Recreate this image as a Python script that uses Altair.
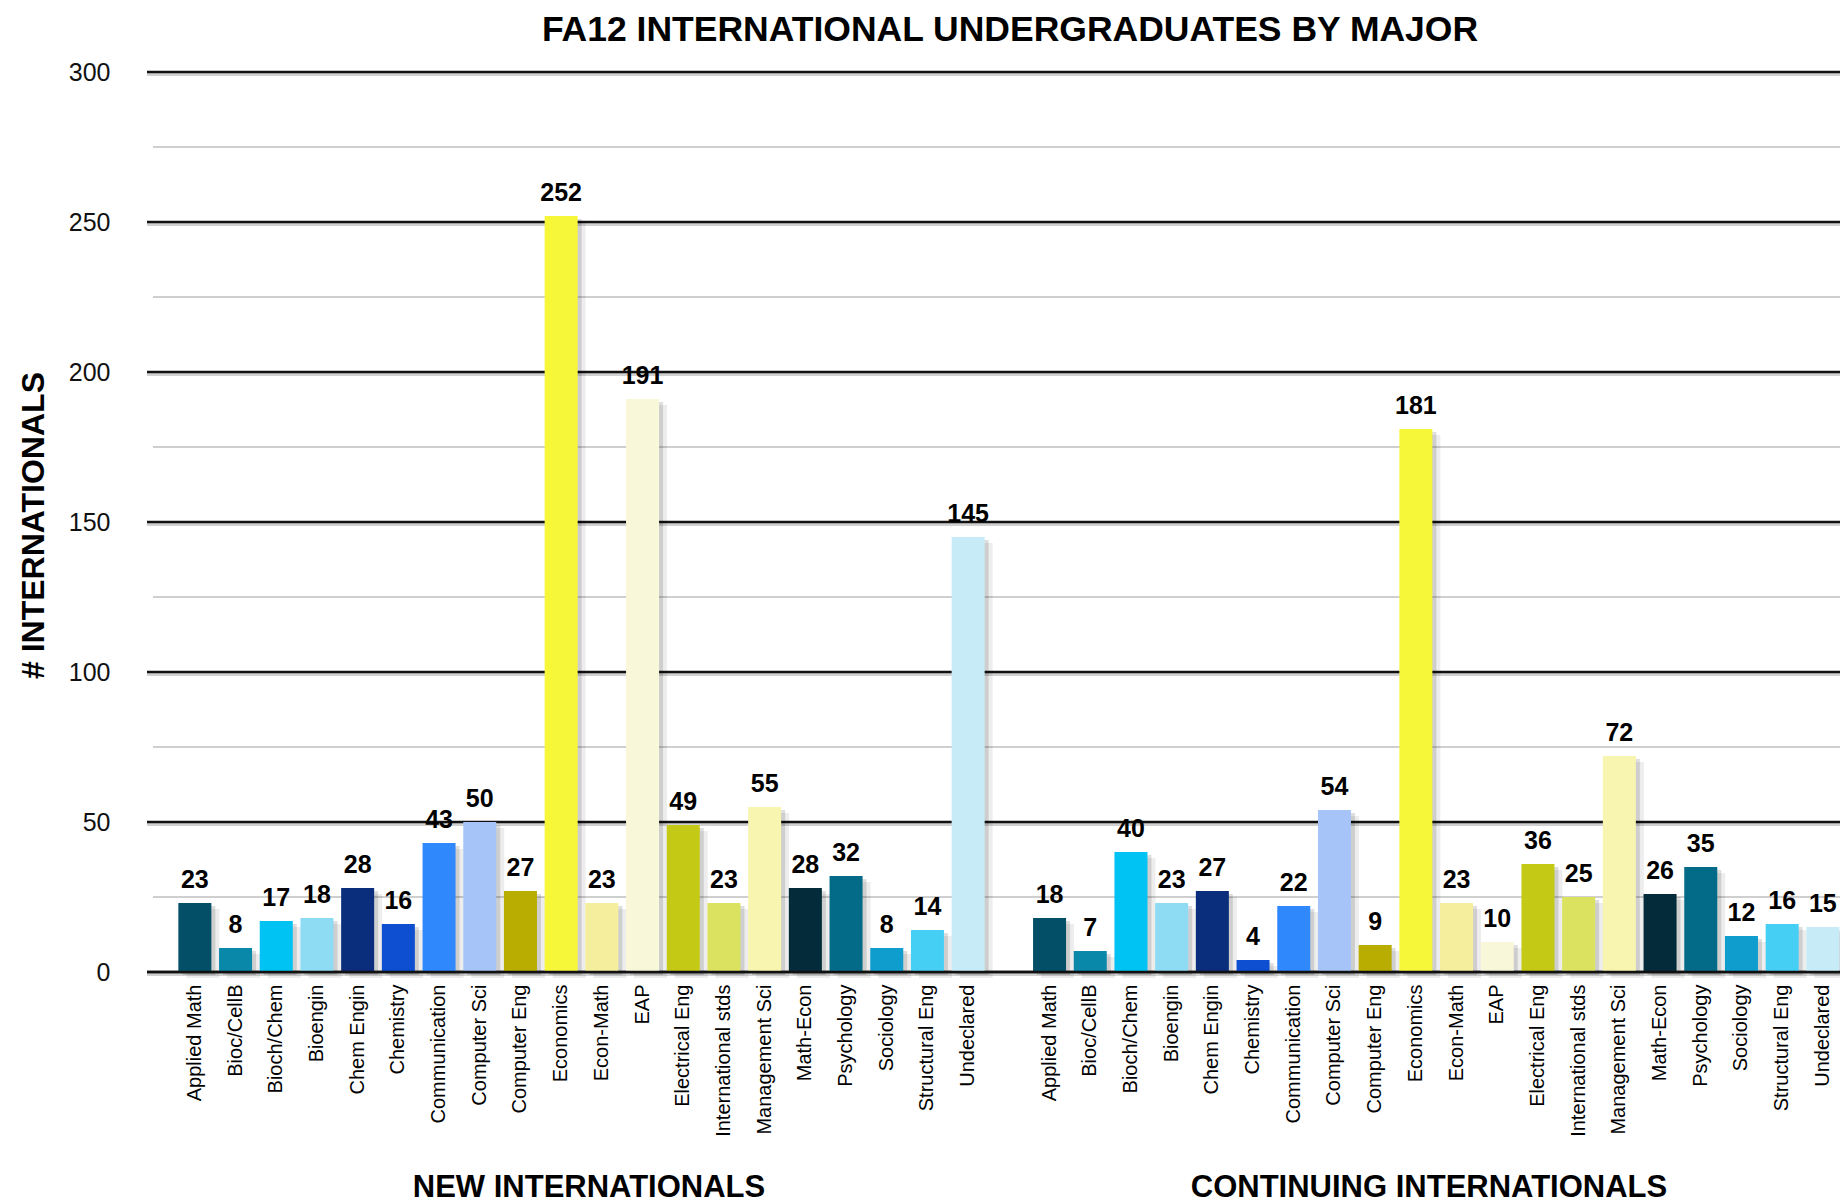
import altair as alt
import pandas as pd

# ---- data ----
majors = ["Applied Math", "Bioc/CellB", "Bioch/Chem", "Bioengin", "Chem Engin",
          "Chemistry", "Communication", "Computer Sci", "Computer Eng", "Economics",
          "Econ-Math", "EAP", "Electrical Eng", "International stds", "Management Sci",
          "Math-Econ", "Psychology", "Sociology", "Structural Eng", "Undeclared"]
new_vals = [23, 8, 17, 18, 28, 16, 43, 50, 27, 252, 23, 191, 49, 23, 55, 28, 32, 8, 14, 145]
cont_vals = [18, 7, 40, 23, 27, 4, 22, 54, 9, 181, 23, 10, 36, 25, 72, 26, 35, 12, 16, 15]
colors = ["#034f68", "#0a88aa", "#00c3f4", "#8edbf4", "#0a2e7c",
          "#0d4fd0", "#2f88fc", "#a6c4f8", "#b8ad00", "#f7f73a",
          "#f5ee9c", "#f8f7da", "#c3c915", "#dbe25f", "#f7f5b0",
          "#032b3a", "#036a88", "#0e9dcc", "#46cff4", "#c7ecf8"]
group_codes = ["N", "C"]
group_titles = ["NEW INTERNATIONALS", "CONTINUING INTERNATIONALS"]
major_ticks = [0, 50, 100, 150, 200, 250, 300]
minor_ticks = [25, 75, 125, 175, 225, 275]
chart_title = "FA12 INTERNATIONAL UNDERGRADUATES BY MAJOR"
y_title = "# INTERNATIONALS"

FONT = "Liberation Sans, Arial, Helvetica, sans-serif"
W, H = 1693, 900

rows = []
for code, vals in zip(group_codes, [new_vals, cont_vals]):
    for m, v in zip(majors, vals):
        rows.append({"key": f"{code}|{m}", "major": m, "value": v})
df = pd.DataFrame(rows)
domain = [f"N|{m}" for m in majors] + ["gap|"] + [f"C|{m}" for m in majors]

grid_df = pd.DataFrame({"value": major_ticks + minor_ticks,
                        "kind": ["major"] * len(major_ticks) + ["minor"] * len(minor_ticks)})

xscale = alt.Scale(domain=domain, paddingInner=0.189, paddingOuter=0.393, align=0.98)
yscale = alt.Scale(domain=[0, 300], nice=False)

x_enc = alt.X("key:N", scale=xscale, title=None,
              axis=alt.Axis(labelExpr="split(datum.value, '|')[1]", labelAngle=270,
                            labelFontSize=20, labelFont=FONT, labelColor="#000",
                            labelPadding=12, ticks=False, tickSize=0, domain=False,
                            grid=False, labelLimit=400, labelOverlap=False))

y_axis = alt.Axis(values=major_ticks, title=y_title, titleFont=FONT, titleFontSize=32,
                  titleFontWeight="bold", titleColor="#000", titleAngle=270,
                  titleX=-104, titleY=453, titleAlign="center", titleBaseline="alphabetic",
                  labelFont=FONT, labelFontSize=25, labelColor="#111", labelPadding=37,
                  ticks=False, tickSize=0, domain=False, grid=False)

y_enc = alt.Y("value:Q", scale=yscale, axis=y_axis)

minor_rules = alt.Chart(grid_df).transform_filter("datum.kind == 'minor'").mark_rule(
    color="#cfcfcf", strokeWidth=2).encode(
    y=y_enc, x=alt.value(6), x2=alt.value(W))

major_shadow = alt.Chart(grid_df).transform_filter("datum.kind == 'major'").mark_rule(
    color="#9a9a9a", strokeWidth=3, opacity=0.45, yOffset=2.5).encode(
    y=y_enc, x=alt.value(0), x2=alt.value(W))

major_rules = alt.Chart(grid_df).transform_filter("datum.kind == 'major'").mark_rule(
    color="#111", strokeWidth=2.4).encode(
    y=y_enc, x=alt.value(0), x2=alt.value(W))

shadow1 = alt.Chart(df).mark_bar(color="#000", opacity=0.13, xOffset=4, yOffset=3,
                                 y2Offset=5).encode(x=x_enc, y=y_enc)
shadow2 = alt.Chart(df).mark_bar(color="#000", opacity=0.07, xOffset=8, yOffset=6,
                                 y2Offset=8).encode(x=x_enc, y=y_enc)

bars = alt.Chart(df).mark_bar().encode(
    x=x_enc, y=y_enc,
    color=alt.Color("major:N", scale=alt.Scale(domain=majors, range=colors), legend=None))

zero_rule = alt.Chart(grid_df).transform_filter("datum.value == 0").mark_rule(
    color="#111", strokeWidth=2.4).encode(
    y=y_enc, x=alt.value(0), x2=alt.value(W))

labels = alt.Chart(df).mark_text(font=FONT, fontSize=25, fontWeight="bold", color="#000",
                                 baseline="alphabetic", dy=-15).encode(
    x=x_enc, y=y_enc, text="value:Q")

title_txt = alt.Chart(pd.DataFrame({"t": [chart_title]})).mark_text(
    font=FONT, fontSize=35.5, fontWeight="bold", color="#000", baseline="alphabetic",
    align="center").encode(text="t:N", x=alt.value(863), y=alt.value(-31.5))

g1 = alt.Chart(pd.DataFrame({"t": [group_titles[0]]})).mark_text(
    font=FONT, fontSize=31, fontWeight="bold", color="#000", baseline="alphabetic",
    align="center").encode(text="t:N", x=alt.value(442), y=alt.value(1125))
g2 = alt.Chart(pd.DataFrame({"t": [group_titles[1]]})).mark_text(
    font=FONT, fontSize=31, fontWeight="bold", color="#000", baseline="alphabetic",
    align="center").encode(text="t:N", x=alt.value(1282), y=alt.value(1125))

chart = alt.layer(minor_rules, major_shadow, major_rules, shadow2, shadow1, bars,
                  zero_rule, labels, title_txt, g1, g2).properties(
    width=W, height=H,
    autosize=alt.AutoSizeParams(type="none"),
    padding={"left": 139, "top": 64, "right": 0, "bottom": 231},
    background="white",
).configure_view(stroke=None)

chart.save("out.html", embed_options={"renderer": "svg", "actions": False})
